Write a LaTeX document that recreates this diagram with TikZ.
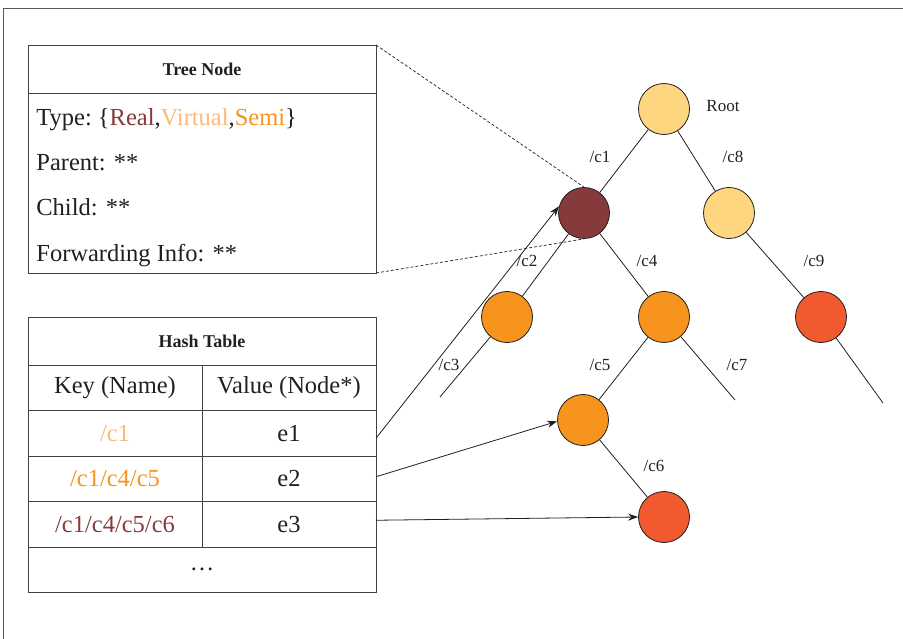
\documentclass[tikz,border=0pt]{standalone}
\usepackage{fontspec}
\setmainfont{Liberation Serif}
\usepackage{tikz}
\usetikzlibrary{arrows.meta}
\definecolor{realred}{RGB}{135,58,60}
\definecolor{virtyellow}{RGB}{255,214,128}
\definecolor{virtorange}{RGB}{253,185,122}
\definecolor{semiorange}{RGB}{247,148,29}
\definecolor{hotred}{RGB}{240,90,46}
\definecolor{inkgray}{RGB}{35,31,32}

\begin{document}
\begin{tikzpicture}[x=1pt, y=-1pt, line width=0.8pt,
  box/.style={draw=inkgray!85, inner sep=0pt, outer sep=0pt, minimum width=348pt, minimum height=48pt},
  cell/.style={draw=inkgray!85, inner sep=0pt, outer sep=0pt, minimum width=174pt, minimum height=45.5pt, text=inkgray, font=\fontsize{24.5}{29}\selectfont},
  field/.style={anchor=base west, inner sep=0pt, text=inkgray, font=\fontsize{24.5}{29}\selectfont},
  title/.style={text=inkgray, font=\fontsize{18}{22}\selectfont\bfseries},
  tnode/.style={circle, draw=inkgray, minimum size=51pt, inner sep=0pt},
  lbl/.style={text=inkgray, font=\fontsize{17}{20}\selectfont},
  link/.style={draw=inkgray, -{Stealth[length=10pt,width=7pt]}}]
\useasboundingbox (0,0) rectangle (903,639);
\draw[gray!70!black] (903,8) -- (3,8) -- (3,639);

% tree node record
\node[box] (tnhead) at (202,69) {};
\node[title] (tntitle) at (tnhead.center) {Tree Node};
\node[box, minimum height=180pt, anchor=north] (tnbody) at (tnhead.south) {};
\node[field] (ftype) at (36,126) {Type:~\{\textcolor{realred}{Real},\textcolor{virtorange}{Virtual},\textcolor{semiorange}{Semi}\}};
\node[field] (fparent) at (36,171) {Parent: **};
\node[field] (fchild) at (36,216) {Child: **};
\node[field] (ffwd) at (36,262) {Forwarding Info: **};

% hash table
\node[box] (hhead) at (202,341) {};
\node[title] (htitle) at (hhead.center) {Hash Table};
\node[cell, anchor=north west] (k0) at (hhead.south west) {Key (Name)};
\node[cell, anchor=west] (v0) at (k0.east) {Value (Node*)};
\node[cell, anchor=north, text=virtorange] (k1) at (k0.south) {/c1};
\node[cell, anchor=west] (v1) at (k1.east) {e1};
\node[cell, anchor=north, text=semiorange] (k2) at (k1.south) {/c1/c4/c5};
\node[cell, anchor=west] (v2) at (k2.east) {e2};
\node[cell, anchor=north, text=realred] (k3) at (k2.south) {/c1/c4/c5/c6};
\node[cell, anchor=west] (v3) at (k3.east) {e3};
\node[box, minimum height=45.5pt, anchor=north west] (hmore) at (k3.south west) {};
\node[text=inkgray, font=\fontsize{24.5}{29}\selectfont] (hdots) at (hmore.center) {\dots};

% tree
\node[tnode, fill=virtyellow] (root) at (664,109) {};
\node[tnode, fill=realred] (c1) at (584,213) {};
\node[tnode, fill=virtyellow] (c8) at (729,213) {};
\node[tnode, fill=semiorange] (c2) at (507,317) {};
\node[tnode, fill=semiorange] (c4) at (664,317) {};
\node[tnode, fill=hotred] (c9) at (821,317) {};
\node[tnode, fill=semiorange] (c5) at (583,420) {};
\node[tnode, fill=hotred] (c6) at (664,517) {};
\coordinate (l3) at (440,397);
\coordinate (l7) at (735,400);
\coordinate (l9) at (883,403);

\draw[inkgray] (root) -- (c1);
\draw[inkgray] (root) -- (c8);
\draw[inkgray] (c1) -- (c2);
\draw[inkgray] (c1) -- (c4);
\draw[inkgray] (c8) -- (c9);
\draw[inkgray] (c2) -- (l3);
\draw[inkgray] (c4) -- (c5);
\draw[inkgray] (c4) -- (l7);
\draw[inkgray] (c9) -- (l9);
\draw[inkgray] (c5) -- (c6);

\node[lbl] (lroot) at (723,106) {Root};
\node[lbl] (lc1) at (600,157) {/c1};
\node[lbl] (lc8) at (733,157) {/c8};
\node[lbl] (lc2) at (527,261) {/c2};
\node[lbl] (lc4) at (647,261) {/c4};
\node[lbl] (lc9) at (814,261) {/c9};
\node[lbl] (lc3) at (449,365) {/c3};
\node[lbl] (lc5) at (600,365) {/c5};
\node[lbl] (lc7) at (737,365) {/c7};
\node[lbl] (lc6) at (654,466) {/c6};

% zoom lines and pointers
\draw[inkgray, line width=0.7pt, dash pattern=on 3pt off 2pt] (tnhead.north east) -- (c1.north);
\draw[inkgray, line width=0.7pt, dash pattern=on 3pt off 2pt] (tnbody.south east) -- (c1.south);
\draw[link] ([yshift=-5pt]v1.east) -- (c1.165);
\draw[link] ([yshift=2pt]v2.east) -- (c5.183);
\draw[link] ([yshift=4pt]v3.east) -- (c6.west);
\end{tikzpicture}
\end{document}
